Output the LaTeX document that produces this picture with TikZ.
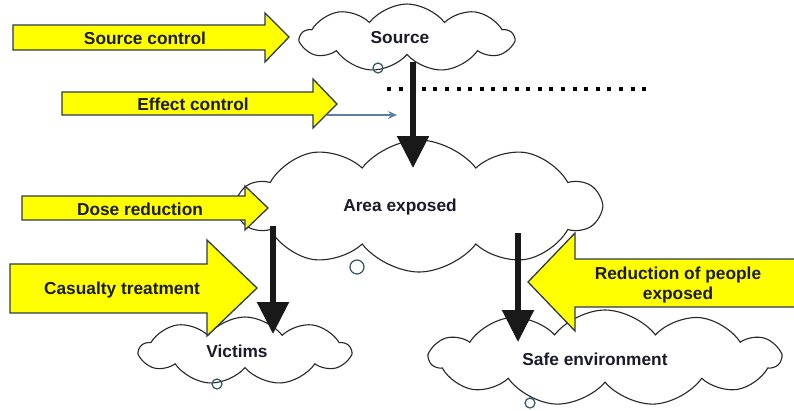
\documentclass[tikz,border=0pt]{standalone}
\usepackage{fontspec}
\setmainfont{Liberation Sans}
\usetikzlibrary{shapes.symbols,arrows.meta}
\definecolor{ylw}{HTML}{FFFF00}
\definecolor{edgec}{HTML}{2E3A4A}
\definecolor{txtc}{HTML}{1A1A2A}
\definecolor{tailcol}{HTML}{2F5560}
\definecolor{steelc}{HTML}{5B7FA6}
\begin{document}
\begin{tikzpicture}[x=1pt,y=-1pt,
  yarrow/.style={fill=ylw,draw=edgec,line width=1.3pt,line join=miter},
  lbl/.style={font=\fontsize{17.3}{20}\selectfont\bfseries,text=txtc,inner sep=0pt,align=center},
  cloudbox/.style={cloud,draw=black!85,line width=1.1pt,fill=white,cloud puffs=#1,cloud puff arc=105,cloud ignores aspect,inner sep=0pt},
  flow/.style={line width=5.5pt,draw=black!90,-{Triangle[width=31pt,length=32pt]}},
  tailc/.style={draw=tailcol,line width=1.2pt},
  dotline/.style={line width=4pt,dash pattern=on 4pt off 7.6pt}]
\useasboundingbox (0,0) rectangle (794,410);
\fill[white] (0,0) rectangle (794,410);

% dotted barrier
\coordinate (d1) at (387,89);
\coordinate (d2) at (649,89);
\draw[dotline] (d1) -- (d2);

% clouds
\node[cloudbox=9, minimum width=212, minimum height=68] (src) at (407,38) {};
\node[cloudbox=10, minimum width=362, minimum height=132] (area) at (419,206) {};
\node[cloudbox=9, minimum width=210, minimum height=68] (vic) at (245,351) {};
\node[cloudbox=11, minimum width=350, minimum height=96] (safe) at (605,358) {};

\draw[tailc] (378,68) circle (5);
\draw[tailc] (357,267) circle (7);
\draw[tailc] (217,384) circle (5);
\draw[tailc] (530,403) circle (5);

\node[lbl] (srcT) at (400,38) {Source};
\node[lbl] (areaT) at (400,207) {Area exposed};
\node[lbl] (vicT) at (237,351) {Victims};
\node[lbl] (safeT) at (595,359) {Safe environment};

% black flow arrows
\coordinate (f1a) at (413,62);
\coordinate (f1b) at (413,168);
\coordinate (f2a) at (273,226);
\coordinate (f2b) at (273,334);
\coordinate (f3a) at (518,233);
\coordinate (f3b) at (518,342);
\draw[flow] (f1a) -- (f1b);

% yellow block arrows
\draw[yarrow] (13,25) -- (265,25) -- (265,13) -- (289,37) -- (265,62) -- (265,50) -- (13,50) -- cycle;
\node[lbl] (sc) at (145,38) {Source control};

\draw[yarrow] (62,92) -- (313,92) -- (313,79) -- (337,104) -- (313,128) -- (313,115) -- (62,115) -- cycle;
\node[lbl] (ec) at (193,104) {Effect control};
\coordinate (e1) at (327,115);
\coordinate (e2) at (397,115);
\draw[steelc,line width=1.3pt,-{Stealth[length=9pt,width=8pt]}] (e1) -- (e2);

\draw[yarrow] (22,196) -- (245,196) -- (245,186) -- (268,208) -- (245,230) -- (245,220) -- (22,220) -- cycle;
\node[lbl] (dr) at (140,209) {Dose reduction};

\draw[yarrow] (10,264) -- (207,264) -- (207,240) -- (257,288) -- (207,336) -- (207,313) -- (10,313) -- cycle;
\node[lbl] (ct) at (122,290) {Casualty treatment};

\draw[yarrow] (800,259) -- (575,259) -- (575,233) -- (528,282) -- (575,331) -- (575,307) -- (800,307);
\node[lbl] (rp) at (678,285) {Reduction of people\\exposed};

\draw[flow] (f2a) -- (f2b);
\draw[flow] (f3a) -- (f3b);
\end{tikzpicture}
\end{document}
